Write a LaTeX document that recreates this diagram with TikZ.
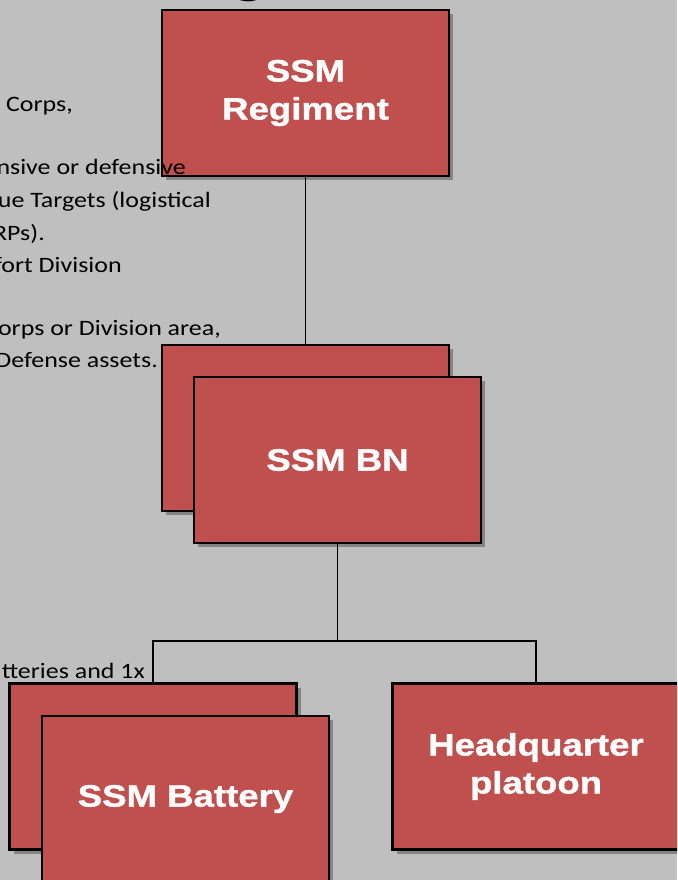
\documentclass[tikz,border=0pt]{standalone}
\usepackage{fontspec}
\usetikzlibrary{shadows}
\newfontfamily\boxfont[FakeStretch=1.18, BoldFeatures={FakeBold=1.2}]{Liberation Sans}
\newfontfamily\bodyfont[FakeStretch=1.18]{Carlito}
\definecolor{slidegray}{HTML}{BFBFBF}
\definecolor{unitred}{HTML}{C0504D}
\begin{document}
\begin{tikzpicture}[x=1pt, y=-1pt,
    unit/.style={rectangle, draw=black, line width=2.2pt, fill=unitred,
        minimum width=287pt, minimum height=166pt, inner sep=2pt,
        text=white, align=center,
        font=\boxfont\bfseries\fontsize{31}{38}\selectfont,
        drop shadow={shadow xshift=4pt, shadow yshift=-4pt,
            fill=black, opacity=0.3}},
    edge/.style={line width=1.4pt, -},
    note/.style={anchor=base east, inner sep=0pt,
        font=\bodyfont\fontsize{22}{30}\selectfont}
]
    \useasboundingbox (0,0) rectangle (677,880);
    \clip (0,0) rectangle (677,880);
    \fill[slidegray] (0,0) rectangle (677,880);
    % title, cut off at the top
    \node[anchor=base, inner sep=0pt, font=\bodyfont\fontsize{60}{60}\selectfont]
        (title) at (249,-8.5) {g};
    % units
    \node[unit] (reg) at (305.5,93) {SSM\\Regiment};
    \node[unit] (bnback) at (305.5,428) {};
    \node[unit] (bn) at (337.5,460) {SSM BN};
    \node[unit] (batback) at (153,766.5) {};
    \node[unit] (bat) at (185.5,799) {SSM Battery};
    \node[unit] (hq) at (536,766.5) {Headquarter\\platoon};
    \coordinate (split) at (337.5,641);
    \draw[edge] (reg.south) -- (bnback.north);
    \draw[edge] (bn.south) -- (split);
    \draw[edge] (batback.north) |- (split) -| (hq.north);
    % text of the slide, cut off at the left
    \node[note] (t1) at (73,112) {Corps,};
    \node[note] (t2) at (186,174) {nsive or defensive};
    \node[note] (t3) at (211,207) {ue Targets (logistical};
    \node[note] (t4) at (45,240) {RPs).};
    \node[note] (t5) at (122,272) {fort Division};
    \node[note] (t6) at (221,335) {orps or Division area,};
    \node[note] (t7) at (158,367) {Defense assets.};
    \node[note] (t8) at (145,678) {tteries and 1x};
\end{tikzpicture}
\end{document}
